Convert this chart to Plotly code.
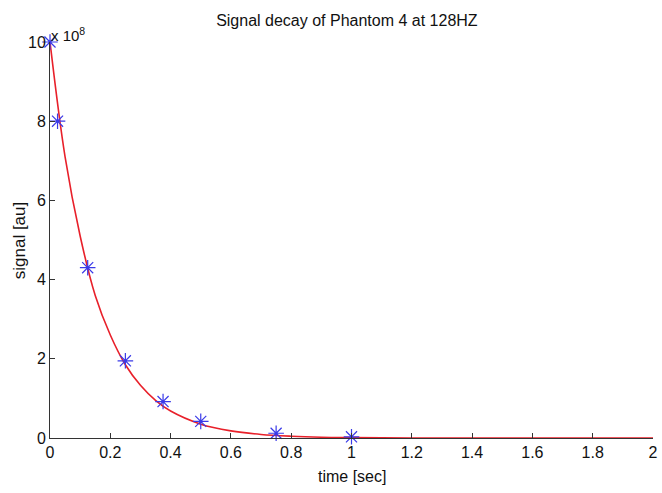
import plotly.graph_objects as go

# measured samples (signal in units of 1e8)
t_meas = [0.0, 0.025, 0.125, 0.25, 0.375, 0.5, 0.75, 1.0]
s_meas = [10.0, 8.0, 4.3, 1.95, 0.92, 0.42, 0.12, 0.03]

# fitted decay curve (units of 1e8)
t_fit = [0.0, 0.05, 0.1, 0.15, 0.2, 0.25, 0.3, 0.35, 0.4, 0.5, 0.6, 0.7, 0.8, 0.9, 1.0, 1.2, 1.5, 2.0]
s_fit = [10.0, 7.1, 5.1, 3.6, 2.6, 1.85, 1.33, 0.95, 0.68, 0.35, 0.18, 0.09, 0.045, 0.02, 0.01, 0.0, 0.0, 0.0]

x_ticks = [0, 0.2, 0.4, 0.6, 0.8, 1, 1.2, 1.4, 1.6, 1.8, 2]
x_tick_labels = ["0", "0.2", "0.4", "0.6", "0.8", "1", "1.2", "1.4", "1.6", "1.8", "2"]
y_ticks = [0, 2, 4, 6, 8, 10]
y_tick_labels = ["0", "2", "4", "6", "8", "10"]

font = "Liberation Sans, Arial, sans-serif"

fig = go.Figure()
fig.add_trace(go.Scatter(x=t_fit, y=s_fit, mode="lines", line=dict(color="#e8202a", width=1.6, shape="spline"),
                         showlegend=False, hoverinfo="skip"))
fig.add_trace(go.Scatter(x=t_meas, y=s_meas, mode="markers",
                         marker=dict(symbol="asterisk-open", size=13, color="#3a3ae8", line=dict(color="#3a3ae8", width=1.2)),
                         showlegend=False, cliponaxis=False))

fig.update_layout(
    width=662, height=493,
    margin=dict(l=50, r=9, t=42, b=55, autoexpand=False),
    paper_bgcolor="white", plot_bgcolor="white",
    font=dict(family=font, color="#111", size=16),
    title=dict(text="Signal decay of Phantom 4 at 128HZ", x=0.524, xanchor="center", y=0.959, yanchor="middle",
               font=dict(size=16, family=font), automargin=False),
    xaxis=dict(range=[0, 2], tickvals=x_ticks, ticktext=x_tick_labels, ticks="inside", ticklen=5,
               tickcolor="#333", showline=True, linecolor="#333", linewidth=1, showgrid=False, zeroline=False,
               tickfont=dict(size=16), automargin=False, ticklabeloverflow="allow"),
    yaxis=dict(range=[0, 10], tickvals=y_ticks, ticktext=y_tick_labels, ticks="inside", ticklen=5,
               tickcolor="#333", showline=True, linecolor="#333", linewidth=1, showgrid=False, zeroline=False,
               tickfont=dict(size=16), automargin=False, ticklabeloverflow="allow"),
)
fig.add_annotation(xref="paper", yref="paper", x=0.5, y=-0.096, xanchor="center", yanchor="middle",
                   text="time [sec]", showarrow=False, font=dict(size=16, family=font))
fig.add_annotation(xref="paper", yref="paper", x=-0.051, y=0.5, xanchor="center", yanchor="middle",
                   text="signal [au]", textangle=-90, showarrow=False, font=dict(size=17, family=font))
fig.add_annotation(xref="paper", yref="paper", x=0.0, y=1.0, xanchor="left", yanchor="bottom",
                   text="x 10<sup>8</sup>", showarrow=False, font=dict(size=15, family=font), xshift=-1, yshift=-4)

fig.write_html("out.html", config={"displayModeBar": False}, post_script="document.body.style.margin='0';")
